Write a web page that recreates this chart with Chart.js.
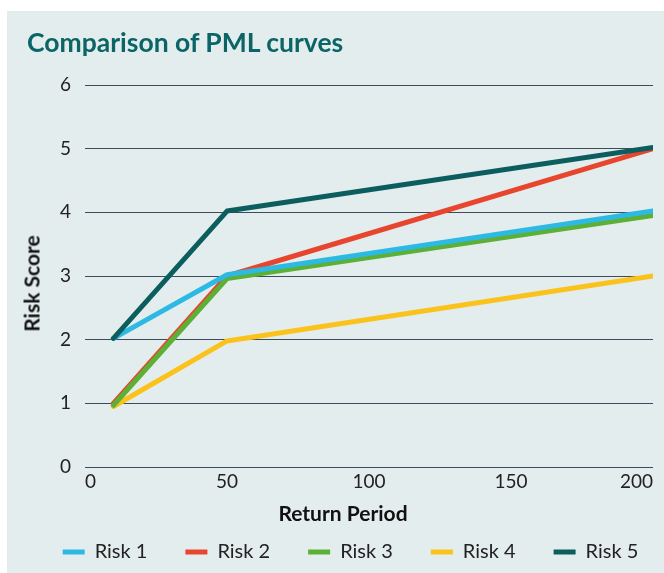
<!DOCTYPE html>
<html>
<head>
<meta charset="utf-8">
<script src="https://cdn.jsdelivr.net/npm/chart.js@4"></script>
<style>
    html, body { margin: 0; padding: 0; background: #fff; }
    #panel { position: absolute; left: 7px; top: 11px; width: 657px; height: 562px; background: #e4eded; }
    #chart { display: block; }
    .txt { position: absolute; font-family: Lato, "Noto Sans", sans-serif; font-weight: bold; white-space: nowrap; }
    #title { left: 27px; top: 29px; font-size: 26.5px; line-height: 26px; color: #0b6466; }
    #xTitle { left: 193px; top: 502px; width: 300px; text-align: center; font-size: 21px; line-height: 21px; color: #111; }
    #yTitle { left: -69px; top: 273px; width: 200px; text-align: center; font-size: 21px; line-height: 21px; color: #111; transform: rotate(-90deg); }
</style>
</head>
<body>
<div id="panel"><canvas id="chart" width="657" height="562"></canvas></div>
<div class="txt" id="title">Comparison of PML curves</div>
<div class="txt" id="xTitle">Return Period</div>
<div class="txt" id="yTitle">Risk Score</div>
<script>
    // Data
    const returnPeriods = [10, 50, 200];
    const risk1 = [2.02, 3.02, 4.02];
    const risk2 = [1.0, 3.0, 5.0];
    const risk3 = [0.97, 2.96, 3.95];
    const risk4 = [0.95, 1.98, 3.0];
    const risk5 = [2.02, 4.02, 5.02];
    const yTicks = [0, 1, 2, 3, 4, 5, 6];
    const xTicks = [0, 50, 100, 150, 200];

    const seriesNames = ['Risk 1', 'Risk 2', 'Risk 3', 'Risk 4', 'Risk 5'];
    const seriesValues = [risk1, risk2, risk3, risk4, risk5];
    const seriesColors = ['#2cb9e4', '#e8452e', '#5bb035', '#fcc21c', '#0b5d5e'];
    // draw order: lower is on top
    const drawOrder = [1, 3, 2, 4, 0];

    const FONT = 'Lato, "Noto Sans", sans-serif';

    const datasets = seriesNames.map((name, i) => ({
        label: name,
        data: returnPeriods.map((x, j) => ({ x, y: seriesValues[i][j] })),
        borderColor: seriesColors[i],
        backgroundColor: seriesColors[i],
        borderWidth: 5,
        borderCapStyle: 'round',
        borderJoinStyle: 'round',
        pointRadius: 0,
        tension: 0,
        order: drawOrder[i]
    }));

    // legend in the reference sits a bit right of centre
    const legendShift = {
        id: 'legendShift',
        afterLayout(chart) {
            chart.legend.left += 15;
            chart.legend.right += 15;
        }
    };

    new Chart(document.getElementById('chart').getContext('2d'), {
        type: 'line',
        data: { datasets },
        plugins: [legendShift],
        options: {
            responsive: false,
            animation: false,
            layout: { padding: { left: 0, right: 0, top: 74, bottom: 1 } },
            plugins: {
                title: { display: false },
                legend: {
                    position: 'bottom',
                    labels: {
                        usePointStyle: true,
                        pointStyle: 'line',
                        pointStyleWidth: 22,
                        padding: 38,
                        color: '#222',
                        font: { family: FONT, size: 20 },
                        sort: (a, b) => a.datasetIndex - b.datasetIndex
                    }
                },
                tooltip: { enabled: false }
            },
            scales: {
                x: {
                    type: 'linear',
                    min: 0,
                    max: 200,
                    afterBuildTicks: s => { s.ticks = xTicks.map(v => ({ value: v })); },
                    afterFit: s => { s.height = 37; s.paddingRight = 11; },
                    grid: { display: false, drawTicks: false },
                    border: { display: false },
                    ticks: {
                        align: 'inner',
                        padding: 3,
                        color: '#222',
                        font: { family: FONT, size: 19 }
                    }
                },
                y: {
                    min: 0,
                    max: 6,
                    afterBuildTicks: s => { s.ticks = yTicks.map(v => ({ value: v })); },
                    afterFit: s => { s.width = 78; },
                    grid: { color: '#3d4c5c', lineWidth: 1, drawTicks: false },
                    border: { display: false },
                    ticks: {
                        padding: 14,
                        color: '#222',
                        font: { family: FONT, size: 19 }
                    }
                }
            }
        }
    });
</script>
</body>
</html>
